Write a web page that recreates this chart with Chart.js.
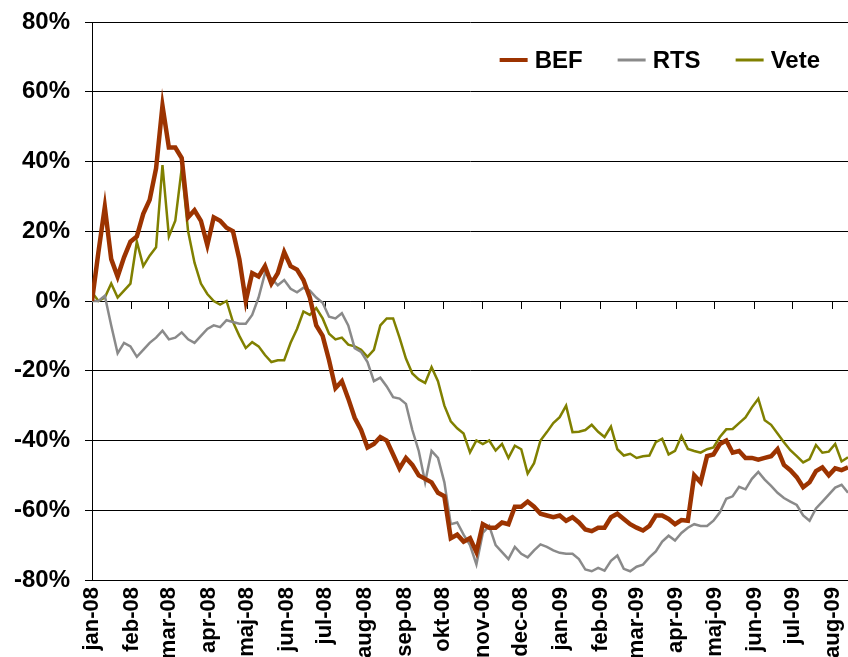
<!DOCTYPE html>
<html>
<head>
<meta charset="utf-8">
<script src="https://cdn.jsdelivr.net/npm/chart.js"></script>
<style>
  html, body { margin: 0; padding: 0; background: #fff; }
  canvas { display: block; }
</style>
</head>
<body>
<canvas id="myChart" width="848" height="657"></canvas>
<script>
// one value every 5 days, starting 1 Jan 2008 (percent change)
const stepDays = 5;

const monthLabels = [
  'jan-08', 'feb-08', 'mar-08', 'apr-08', 'maj-08', 'jun-08', 'jul-08',
  'aug-08', 'sep-08', 'okt-08', 'nov-08', 'dec-08', 'jan-09', 'feb-09',
  'mar-09', 'apr-09', 'maj-09', 'jun-09', 'jul-09', 'aug-09'
];

const yTicks = [-80, -60, -40, -20, 0, 20, 40, 60, 80];

const bef = [
  0, 14, 27, 12, 7, 12.5, 17, 18.5, 25, 29,
  38, 56, 44, 44, 41, 24, 26, 23, 16, 24,
  23, 21, 20, 12, 0, 8, 7, 10, 5, 8,
  14, 10, 9, 6, 1, -7, -10, -17, -25, -23,
  -28, -33.5, -37, -42, -41, -39, -40, -44, -48, -45,
  -47, -50, -51, -52, -55, -56, -68, -67, -69, -68,
  -72, -64, -65, -65, -63.5, -64, -59, -59, -57.5, -59,
  -61, -61.5, -62, -61.5, -63, -62, -63.5, -65.5, -66, -65,
  -65, -62, -61, -62.5, -64, -65, -65.8, -64.5, -61.5, -61.5,
  -62.5, -64, -62.8, -63, -50, -52, -44.5, -44, -41, -40,
  -43.5, -43, -45, -45, -45.5, -45, -44.5, -42.5, -47, -48.5,
  -50.5, -53.4, -52, -48.8, -47.7, -50, -48, -48.5, -47.7
];

const rts = [
  0, 0, 1.5, -7, -15, -12, -13, -16, -14, -12,
  -10.5, -8.5, -11, -10.5, -9, -11, -12, -10, -8, -7,
  -7.5, -5.5, -6, -6.5, -6.5, -4, 1, 8, 6.5, 4.5,
  6, 3.5, 2.5, 3.8, 3, 1, -0.5, -4.5, -5, -3.5,
  -7, -13.5, -14.6, -17.5, -23, -22, -24.5, -27.6, -28, -29.5,
  -37, -43, -52, -43, -45, -52, -64, -63.5, -67, -70,
  -75.5, -66.5, -64.5, -70, -72, -74, -70.5, -72.5, -73.5, -71.5,
  -69.8, -70.5, -71.5, -72.2, -72.5, -72.5, -74, -77, -77.5, -76.5,
  -77.3, -74.5, -73, -76.8, -77.5, -76.2, -75.6, -73.5, -71.8, -69,
  -67.3, -68.7, -66.5, -65, -64, -64.5, -64.5, -63, -60.6, -56.7,
  -56, -53.3, -54, -51, -49, -51.2, -53, -55, -56.5, -57.5,
  -58.5, -61.5, -63, -59.5, -57.5, -55.5, -53.5, -52.7, -55
];

const vete = [
  2.5, 0, 1, 5, 1, 3, 5, 17, 10, 13,
  15.4, 39, 18.5, 23, 38, 20, 11, 5, 2, 0,
  -1, 0, -6, -10, -13.5, -11.8, -13, -15.5, -17.5, -17,
  -17, -12, -8, -3, -4, -2, -5, -9.4, -11, -10.5,
  -12.5, -13, -14, -16, -14, -7, -5, -5, -10.5, -16.5,
  -20.8, -22.5, -23.5, -19, -23, -30, -34.5, -36.5, -38, -43.4,
  -40, -41, -40, -42.9, -41, -45, -41.5, -42.5, -49.5, -46.5,
  -40, -37.6, -35, -33.3, -30, -37.6, -37.5, -37, -35.5, -37.5,
  -39, -36, -42.5, -44.3, -43.8, -45, -44.5, -44.3, -40.5, -39.5,
  -44, -43, -38.7, -42.4, -43, -43.5, -42.5, -42, -39, -36.8,
  -36.7, -35, -33.4, -30.5, -28, -34.2, -35.5, -38, -40.5, -42.8,
  -44.5, -46.3, -45.3, -41.3, -43.5, -43.2, -41, -46, -44.8
];

const startDate = Date.UTC(2008, 0, 1);
const monthDays = monthLabels.map((_, i) => (Date.UTC(2008, i, 1) - startDate) / 86400000);
const lastDay = (bef.length - 1) * stepDays;

const toPoints = arr => arr.map((v, i) => ({ x: i * stepDays, y: v }));

const monthTicks = scale => {
  scale.ticks = monthDays.map(v => ({ value: v }));
};

// legend drawn inside the plot, top right
const insideLegend = {
  id: 'insideLegend',
  afterDraw(chart) {
    const { ctx, chartArea } = chart;
    const y = chartArea.top + 38;
    let x = chartArea.right - 28;
    ctx.save();
    ctx.font = 'bold 24px Arial, "Liberation Sans", sans-serif';
    ctx.textBaseline = 'middle';
    chart.data.datasets.slice().reverse().forEach(ds => {
      const w = ctx.measureText(ds.label).width;
      x -= w;
      ctx.fillStyle = '#000';
      ctx.fillText(ds.label, x, y + 1);
      x -= 7;
      ctx.strokeStyle = ds.borderColor;
      ctx.lineWidth = ds.legendWidth;
      ctx.beginPath();
      ctx.moveTo(x - 28, y);
      ctx.lineTo(x, y);
      ctx.stroke();
      x -= 28 + 35;
    });
    ctx.restore();
  }
};

const config = {
  type: 'line',
  data: {
    datasets: [{
      label: 'BEF',
      data: toPoints(bef),
      borderColor: '#9c3300',
      borderWidth: 4.5,
      legendWidth: 4,
      pointRadius: 0,
      tension: 0
    }, {
      label: 'RTS',
      data: toPoints(rts),
      borderColor: '#8a8a8a',
      borderWidth: 2.5,
      legendWidth: 3,
      pointRadius: 0,
      tension: 0
    }, {
      label: 'Vete',
      data: toPoints(vete),
      borderColor: '#808000',
      borderWidth: 2.5,
      legendWidth: 3,
      pointRadius: 0,
      tension: 0
    }]
  },
  options: {
    responsive: false,
    animation: false,
    devicePixelRatio: 1,
    layout: { padding: { top: 22, left: 0, right: 0, bottom: 0 } },
    plugins: {
      legend: { display: false },
      tooltip: { enabled: false }
    },
    scales: {
      x: {
        type: 'linear',
        min: 0,
        max: lastDay,
        afterBuildTicks: monthTicks,
        afterFit: s => { s.height = 77; s.paddingLeft = 0; s.paddingRight = 0; },
        grid: { display: false, drawTicks: false },
        border: { display: false },
        ticks: {
          autoSkip: false,
          minRotation: 90,
          maxRotation: 90,
          padding: 7,
          color: '#000',
          font: { family: 'Arial, "Liberation Sans", sans-serif', size: 22, weight: 'bold' },
          callback: (v, i) => monthLabels[i]
        }
      },
      x2: {
        type: 'linear',
        position: { y: 0 },
        min: 0,
        max: lastDay,
        afterBuildTicks: monthTicks,
        afterFit: s => { s.height = 0; s.paddingTop = 0; s.paddingBottom = 0; },
        grid: { drawOnChartArea: false, drawTicks: true, tickLength: 7, color: '#000' },
        border: { display: true, color: '#000', width: 1 },
        ticks: { display: false }
      },
      y: {
        min: -80,
        max: 80,
        afterBuildTicks: s => { s.ticks = yTicks.map(v => ({ value: v })); },
        afterFit: s => { s.width = 92; s.paddingTop = 0; s.paddingBottom = 0; },
        grid: { color: '#000', lineWidth: 1, tickLength: 7 },
        border: { display: true, color: '#000', width: 1 },
        ticks: {
          padding: 15,
          color: '#000',
          font: { family: 'Arial, "Liberation Sans", sans-serif', size: 24, weight: 'bold' },
          callback: v => v + '%'
        }
      }
    }
  },
  plugins: [insideLegend]
};

const ctx = document.getElementById('myChart');
const myChart = new Chart(ctx, config);
</script>
</body>
</html>
